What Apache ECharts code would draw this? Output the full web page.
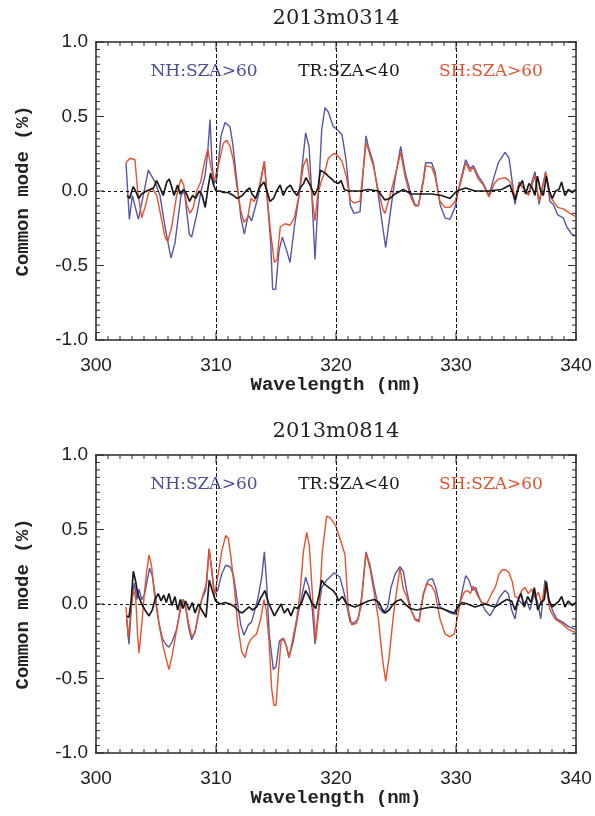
<!DOCTYPE html>
<html><head><meta charset="utf-8">
<script src="https://cdn.jsdelivr.net/npm/echarts@6/dist/echarts.min.js"></script>
<style>html,body{margin:0;padding:0;background:#fff}#c{width:595px;height:816px}</style>
</head><body><div id="c"></div>
<script>
const panelTitles = ['2013m0314', '2013m0814'];
const seriesNames = ['NH:SZA>60', 'TR:SZA<40', 'SH:SZA>60'];
const refWavelengths = [310, 320, 330];
const zeroLevel = 0;
const xRange = [300, 340], yRange = [-1, 1];
const xMajorStep = 10, xMinorStep = 1, yMajorStep = 0.5, yMinorStep = 0.05;

const nhMar = [[302.5,0.19],[302.78,-0.19],[303.03,-0.03],[303.53,-0.19],[303.94,-0.03],[304.36,0.14],[304.92,0.06],[305.33,-0.03],[305.75,-0.24],[306.25,-0.45],[306.58,-0.35],[307.08,-0.03],[307.36,0.0],[307.78,-0.29],[307.97,-0.31],[308.39,-0.16],[308.75,0.0],[309.08,0.1],[309.31,0.26],[309.5,0.48],[309.67,0.19],[309.83,0.05],[310.06,0.08],[310.42,0.37],[310.75,0.46],[311.17,0.43],[311.39,0.32],[311.72,0.08],[312.08,-0.18],[312.36,-0.29],[312.69,-0.16],[312.97,-0.2],[313.53,-0.03],[314.03,0.2],[314.22,0.0],[314.56,-0.35],[314.72,-0.66],[314.97,-0.66],[315.25,-0.4],[315.53,-0.31],[315.89,-0.4],[316.17,-0.48],[316.53,-0.24],[316.92,-0.03],[317.47,0.39],[317.75,0.3],[317.97,0.0],[318.25,-0.46],[318.53,-0.03],[318.81,0.41],[319.08,0.56],[319.36,0.53],[319.78,0.43],[320.0,0.42],[320.5,0.38],[320.85,0.2],[321.2,-0.1],[321.5,-0.15],[322.0,-0.14],[322.5,0.37],[322.69,0.3],[323.11,0.19],[323.53,-0.03],[323.89,-0.24],[324.14,-0.38],[324.5,-0.16],[324.92,0.08],[325.39,0.3],[325.75,0.13],[326.17,0.0],[326.58,-0.09],[326.86,-0.1],[327.28,0.08],[327.47,0.19],[327.97,0.19],[328.25,0.13],[328.67,-0.09],[329.08,-0.18],[329.5,-0.19],[329.92,-0.11],[330.19,0.0],[330.47,0.1],[330.81,0.21],[331.17,0.15],[331.44,0.17],[331.86,0.1],[332.28,0.05],[332.75,-0.03],[333.19,0.1],[333.53,0.19],[334.08,0.26],[334.42,0.22],[334.69,0.06],[334.92,-0.09],[335.25,0.06],[335.61,0.02],[336.03,-0.02],[336.58,0.13],[336.92,-0.09],[337.47,0.13],[337.83,-0.07],[338.11,-0.09],[338.47,-0.16],[338.94,-0.18],[339.22,-0.24],[339.64,-0.29],[339.92,-0.3]];
const trMar = [[302.6,-0.03],[302.8,-0.05],[303.1,0.03],[303.3,0.0],[303.55,-0.05],[303.8,-0.02],[304.2,0.0],[304.5,0.01],[304.8,0.02],[305.05,0.07],[305.4,0.01],[305.6,-0.03],[305.9,0.06],[306.1,0.08],[306.3,0.03],[306.5,-0.03],[306.8,0.04],[307.0,-0.02],[307.3,0.01],[307.55,-0.02],[307.8,-0.07],[308.05,-0.03],[308.3,-0.05],[308.6,0.0],[308.85,-0.03],[309.1,-0.11],[309.35,0.03],[309.55,0.12],[309.8,0.04],[310.0,0.0],[310.35,0.0],[310.6,-0.01],[311.0,-0.01],[311.45,-0.03],[311.75,-0.05],[311.9,-0.05],[312.2,-0.03],[312.5,0.0],[312.8,0.02],[313.0,-0.02],[313.3,-0.05],[313.6,0.02],[314.0,0.06],[314.25,0.0],[314.5,-0.07],[314.8,-0.05],[315.05,0.0],[315.35,0.04],[315.6,-0.03],[315.9,0.02],[316.2,0.04],[316.45,0.0],[316.75,-0.03],[317.0,0.02],[317.3,0.05],[317.5,0.09],[317.9,0.03],[318.2,-0.03],[318.5,0.02],[318.7,0.14],[319.1,0.12],[319.35,0.1],[319.65,0.08],[319.9,0.06],[320.2,0.05],[320.42,0.07],[320.69,0.01],[321.03,0.0],[322.0,0.0],[322.69,0.01],[323.53,0.0],[323.8,-0.03],[324.08,-0.06],[324.5,-0.05],[324.92,-0.02],[325.6,0.01],[326.3,-0.02],[327.14,-0.02],[327.97,-0.02],[328.8,-0.03],[329.5,-0.05],[330.06,0.0],[330.81,0.02],[331.58,0.0],[332.69,0.0],[333.8,0.01],[334.5,0.04],[334.92,-0.06],[335.25,0.03],[335.53,0.07],[335.8,-0.02],[336.08,0.05],[336.36,0.02],[336.58,-0.03],[336.78,0.1],[337.06,0.0],[337.28,-0.03],[337.53,0.1],[337.78,0.0],[338.03,-0.05],[338.3,0.0],[338.58,0.01],[338.8,0.06],[339.08,-0.03],[339.36,0.01],[339.69,-0.01],[339.97,0.01]];
const shMar = [[302.5,0.19],[302.83,0.22],[303.25,0.21],[303.47,0.0],[303.81,-0.18],[304.08,-0.11],[304.42,0.0],[304.69,0.02],[305.06,-0.03],[305.39,-0.16],[305.75,-0.31],[305.97,-0.34],[306.31,-0.24],[306.72,-0.03],[307.08,0.08],[307.31,0.04],[307.56,-0.09],[307.83,-0.15],[308.11,-0.11],[308.39,0.0],[308.72,0.06],[309.03,0.19],[309.31,0.28],[309.58,0.16],[309.86,0.07],[310.25,0.19],[310.61,0.32],[310.89,0.34],[311.17,0.3],[311.44,0.21],[311.72,0.04],[312.06,-0.13],[312.33,-0.21],[312.64,-0.18],[312.92,-0.05],[313.19,-0.07],[313.53,0.0],[314.03,0.2],[314.22,0.0],[314.5,-0.24],[314.86,-0.48],[315.08,-0.46],[315.36,-0.24],[315.75,-0.22],[316.17,-0.23],[316.53,-0.18],[316.92,-0.03],[317.28,0.17],[317.56,0.22],[317.92,0.02],[318.25,-0.2],[318.47,-0.03],[318.75,0.06],[319.08,0.13],[319.36,0.22],[319.78,0.25],[320.0,0.25],[320.5,0.2],[320.85,0.1],[321.2,-0.06],[321.5,-0.08],[322.0,-0.07],[322.5,0.32],[322.69,0.28],[323.11,0.17],[323.53,0.0],[323.94,-0.13],[324.08,-0.15],[324.5,-0.03],[324.92,0.1],[325.39,0.26],[325.75,0.1],[326.17,-0.03],[326.58,-0.1],[326.86,-0.1],[327.28,0.06],[327.47,0.17],[327.97,0.16],[328.25,0.1],[328.67,-0.07],[329.08,-0.11],[329.5,-0.11],[329.92,-0.07],[330.19,0.0],[330.47,0.08],[330.81,0.19],[331.17,0.13],[331.44,0.16],[331.86,0.08],[332.28,0.04],[332.75,-0.04],[333.19,0.05],[333.53,0.08],[334.08,0.09],[334.42,0.07],[334.69,0.04],[334.92,-0.05],[335.25,0.05],[335.61,0.02],[336.03,-0.03],[336.58,0.1],[336.92,-0.07],[337.47,0.12],[337.83,-0.03],[338.11,-0.07],[338.47,-0.11],[338.94,-0.12],[339.5,-0.15],[339.92,-0.17]];

const nhAug = [[302.56,-0.1],[302.75,-0.27],[302.97,0.01],[303.19,0.14],[303.42,0.03],[303.58,0.1],[303.81,0.03],[304.03,0.06],[304.25,0.15],[304.47,0.24],[304.69,0.19],[304.97,0.04],[305.25,-0.13],[305.53,-0.23],[305.81,-0.27],[306.08,-0.29],[306.36,-0.25],[306.72,-0.17],[307.08,-0.02],[307.28,0.03],[307.5,-0.04],[307.75,-0.17],[307.97,-0.24],[308.25,-0.19],[308.53,-0.08],[308.81,0.03],[309.14,0.09],[309.42,0.37],[309.64,0.24],[309.86,0.07],[310.14,0.09],[310.47,0.2],[310.81,0.26],[311.17,0.25],[311.44,0.2],[311.72,0.05],[312.06,-0.14],[312.33,-0.21],[312.69,-0.14],[312.97,-0.12],[313.47,0.03],[313.81,0.18],[314.03,0.35],[314.22,0.14],[314.44,-0.21],[314.78,-0.44],[315.0,-0.42],[315.28,-0.25],[315.56,-0.23],[315.83,-0.27],[316.08,-0.36],[316.44,-0.25],[316.86,-0.06],[317.19,0.07],[317.47,0.18],[317.75,0.11],[318.03,-0.04],[318.25,-0.27],[318.53,-0.04],[318.81,0.11],[319.22,0.16],[319.86,0.21],[320.0,0.22],[320.33,0.18],[320.75,0.05],[321.17,-0.12],[321.44,-0.13],[321.86,-0.1],[322.14,0.05],[322.5,0.35],[322.83,0.26],[323.19,0.11],[323.53,-0.02],[323.94,-0.06],[324.31,-0.02],[324.58,0.11],[324.92,0.2],[325.33,0.25],[325.61,0.22],[325.89,0.09],[326.25,-0.04],[326.58,-0.1],[326.92,-0.11],[327.28,0.07],[327.69,0.16],[328.03,0.17],[328.31,0.11],[328.67,-0.02],[329.08,-0.04],[329.5,-0.06],[329.92,-0.07],[330.25,-0.02],[330.61,0.12],[330.81,0.19],[331.08,0.16],[331.36,0.09],[331.64,0.11],[332.0,0.03],[332.42,-0.04],[332.83,-0.08],[333.25,-0.02],[333.67,0.05],[334.08,0.09],[334.36,0.07],[334.64,-0.04],[334.92,-0.1],[335.19,0.03],[335.53,0.0],[335.89,0.02],[336.17,-0.04],[336.5,0.07],[336.78,0.02],[337.06,-0.1],[337.42,0.16],[337.69,0.05],[338.03,-0.04],[338.39,-0.1],[338.86,-0.12],[339.36,-0.15],[339.92,-0.17]];
const trAug = [[302.56,-0.08],[302.75,-0.09],[302.94,0.03],[303.11,0.22],[303.31,0.15],[303.47,0.07],[303.81,0.0],[304.08,-0.04],[304.42,-0.08],[304.69,-0.04],[304.92,0.03],[305.19,0.07],[305.42,0.02],[305.64,0.06],[305.86,0.01],[306.08,0.07],[306.33,-0.01],[306.58,0.05],[306.81,-0.04],[307.03,0.03],[307.25,-0.03],[307.47,0.02],[307.75,-0.04],[308.03,0.01],[308.25,-0.06],[308.53,0.0],[308.81,-0.04],[309.17,-0.09],[309.44,0.16],[309.69,0.09],[309.97,0.02],[310.33,0.0],[310.75,0.01],[311.17,0.0],[311.58,-0.02],[311.92,-0.05],[312.19,-0.06],[312.47,-0.04],[312.75,-0.02],[313.03,-0.04],[313.39,-0.02],[313.72,0.04],[314.08,0.09],[314.36,0.01],[314.64,-0.04],[314.86,-0.08],[315.14,-0.04],[315.42,0.0],[315.69,-0.06],[315.97,-0.03],[316.25,-0.08],[316.53,-0.02],[316.81,-0.03],[317.14,0.01],[317.47,0.09],[317.75,0.05],[318.03,0.0],[318.31,-0.03],[318.56,0.05],[318.81,0.16],[319.08,0.13],[319.42,0.11],[319.75,0.09],[320.03,0.06],[320.19,0.02],[320.53,0.05],[320.89,0.0],[321.58,-0.02],[322.14,0.0],[322.69,0.02],[323.19,0.03],[323.58,0.01],[323.81,-0.03],[324.08,-0.06],[324.42,-0.04],[324.78,0.0],[325.06,0.02],[325.42,0.03],[325.75,0.0],[326.17,-0.03],[326.72,-0.04],[327.28,-0.03],[327.97,-0.02],[328.81,-0.03],[329.5,-0.05],[329.86,-0.06],[330.14,-0.02],[330.53,0.01],[330.97,0.0],[331.58,-0.02],[332.42,0.0],[333.25,-0.02],[333.81,0.01],[334.22,0.03],[334.64,0.02],[334.92,-0.04],[335.14,0.02],[335.42,0.07],[335.69,-0.02],[335.97,0.05],[336.25,0.01],[336.53,0.11],[336.81,-0.04],[337.08,0.01],[337.36,0.03],[337.53,0.15],[337.75,0.02],[338.03,-0.02],[338.31,0.0],[338.58,0.02],[338.81,0.05],[339.08,-0.02],[339.36,0.02],[339.69,-0.01],[339.97,0.01]];
const shAug = [[302.5,-0.02],[302.69,-0.23],[302.92,-0.04],[303.11,0.1],[303.31,0.04],[303.47,-0.21],[303.58,-0.33],[303.81,-0.14],[304.03,0.07],[304.22,0.22],[304.42,0.33],[304.64,0.25],[304.86,0.07],[305.06,-0.04],[305.33,-0.17],[305.61,-0.29],[305.89,-0.38],[306.08,-0.44],[306.36,-0.34],[306.72,-0.17],[307.0,-0.04],[307.19,0.03],[307.42,0.01],[307.64,-0.1],[307.97,-0.22],[308.25,-0.19],[308.58,-0.04],[308.94,0.07],[309.22,0.14],[309.44,0.37],[309.69,0.18],[309.86,0.05],[310.14,0.18],[310.47,0.35],[310.81,0.46],[311.03,0.44],[311.25,0.31],[311.53,0.11],[311.81,-0.14],[312.14,-0.32],[312.42,-0.36],[312.69,-0.27],[312.97,-0.23],[313.39,-0.2],[313.72,-0.1],[314.0,0.03],[314.19,-0.04],[314.42,-0.25],[314.64,-0.57],[314.83,-0.68],[315.0,-0.68],[315.19,-0.47],[315.42,-0.25],[315.64,-0.23],[315.89,-0.29],[316.08,-0.36],[316.36,-0.25],[316.72,-0.1],[317.0,0.07],[317.28,0.35],[317.56,0.48],[317.78,0.39],[318.03,0.07],[318.31,-0.25],[318.58,-0.04],[318.86,0.35],[319.22,0.59],[319.5,0.58],[319.86,0.54],[320.0,0.52],[320.33,0.44],[320.75,0.33],[321.03,-0.04],[321.31,-0.14],[321.72,-0.13],[322.08,-0.02],[322.5,0.34],[322.83,0.24],[323.19,0.07],[323.53,-0.1],[323.86,-0.36],[324.14,-0.52],[324.42,-0.36],[324.78,-0.08],[325.06,0.09],[325.33,0.24],[325.61,0.1],[325.89,0.05],[326.25,-0.04],[326.64,-0.11],[326.92,-0.12],[327.28,0.06],[327.56,0.14],[327.97,0.12],[328.25,0.08],[328.67,-0.1],[329.08,-0.2],[329.5,-0.22],[329.86,-0.2],[330.14,-0.08],[330.42,0.03],[330.69,0.08],[330.97,0.09],[331.19,0.07],[331.44,0.12],[331.72,0.07],[332.14,0.01],[332.56,0.0],[332.97,0.07],[333.31,0.12],[333.58,0.2],[333.86,0.23],[334.14,0.23],[334.42,0.21],[334.69,0.15],[334.92,0.05],[335.19,0.04],[335.47,0.09],[335.75,0.11],[336.03,0.07],[336.31,0.1],[336.58,0.04],[336.86,0.08],[337.14,0.0],[337.47,0.14],[337.83,-0.04],[338.25,-0.1],[338.81,-0.13],[339.36,-0.17],[339.92,-0.19]];

const panels = [
  {title: panelTitles[0], nh: nhMar, tr: trMar, sh: shMar},
  {title: panelTitles[1], nh: nhAug, tr: trAug, sh: shAug}
];
const colors = {nh: '#5457a8', tr: '#1a1a1a', sh: '#e8512b'};
const labelColors = ['#4a4d9e', '#1a1a1a', '#e2532e'];

const gridTops = [42, 455];
const gridH = 298;
const L = 96, R = 19;
const frameColor = '#2a2a2a';

function fl() { return {show: true, onZero: false, lineStyle: {color: frameColor, width: 1.5}}; }
const labelStyle = {color: '#222', fontFamily: 'Liberation Sans', fontSize: 19};
const nameStyle = {color: '#222', fontFamily: 'Liberation Mono', fontWeight: 'bold', fontSize: 19};

// Inward ticks on all four sides of the frame, placed through the axis scales
function tickSeries(ai) {
  return {
    type: 'custom', xAxisIndex: ai, yAxisIndex: ai, silent: true, clip: false, z: 10,
    data: [[(xRange[0] + xRange[1]) / 2, 0]],
    renderItem: function (params, api) {
      const children = [];
      const lb = api.coord([xRange[0], yRange[0]]);
      const rt = api.coord([xRange[1], yRange[1]]);
      const st = {stroke: frameColor, lineWidth: 1};
      const nx = Math.round((xRange[1] - xRange[0]) / xMinorStep);
      const perX = Math.round(xMajorStep / xMinorStep);
      for (let i = 0; i <= nx; i++) {
        const px = api.coord([xRange[0] + i * xMinorStep, 0])[0];
        const len = (i % perX === 0) ? 8 : 4;
        children.push({type: 'line', shape: {x1: px, y1: lb[1], x2: px, y2: lb[1] - len}, style: st});
        children.push({type: 'line', shape: {x1: px, y1: rt[1], x2: px, y2: rt[1] + len}, style: st});
      }
      const ny = Math.round((yRange[1] - yRange[0]) / yMinorStep);
      const perY = Math.round(yMajorStep / yMinorStep);
      for (let j = 0; j <= ny; j++) {
        const py = api.coord([xRange[0], yRange[0] + j * yMinorStep])[1];
        const len = (j % perY === 0) ? 8 : 4;
        children.push({type: 'line', shape: {x1: lb[0], y1: py, x2: lb[0] + len, y2: py}, style: st});
        children.push({type: 'line', shape: {x1: rt[0], y1: py, x2: rt[0] - len, y2: py}, style: st});
      }
      return {type: 'group', children: children};
    }
  };
}

const grids = [], xAxes = [], yAxes = [], series = [], graphics = [];

gridTops.forEach((top, g) => {
  grids.push({left: L, right: R, top: top, height: gridH});
  xAxes.push({
    gridIndex: g, type: 'value', min: xRange[0], max: xRange[1], interval: xMajorStep, position: 'bottom',
    axisLine: fl(), axisTick: {show: false}, minorTick: {show: false}, splitLine: {show: false},
    axisLabel: Object.assign({margin: 16}, labelStyle),
    name: 'Wavelength (nm)', nameLocation: 'middle', nameGap: 36, nameTextStyle: Object.assign({}, nameStyle)
  });
  xAxes.push({
    gridIndex: g, type: 'value', min: xRange[0], max: xRange[1], interval: xMajorStep, position: 'top',
    axisLine: fl(), axisTick: {show: false}, minorTick: {show: false}, splitLine: {show: false}, axisLabel: {show: false}
  });
  yAxes.push({
    gridIndex: g, type: 'value', min: yRange[0], max: yRange[1], interval: yMajorStep, position: 'left',
    axisLine: fl(), axisTick: {show: false}, minorTick: {show: false}, splitLine: {show: false},
    axisLabel: Object.assign({margin: 8, formatter: v => v.toFixed(1)}, labelStyle),
    name: 'Common mode (%)', nameLocation: 'middle', nameGap: 63, nameTextStyle: Object.assign({}, nameStyle)
  });
  yAxes.push({
    gridIndex: g, type: 'value', min: yRange[0], max: yRange[1], interval: yMajorStep, position: 'right',
    axisLine: fl(), axisTick: {show: false}, minorTick: {show: false}, splitLine: {show: false}, axisLabel: {show: false}
  });

  const p = panels[g];
  const ai = g * 2;
  series.push({type: 'line', xAxisIndex: ai, yAxisIndex: ai, data: p.nh,
    showSymbol: false, lineStyle: {color: colors.nh, width: 1.4}});
  series.push({type: 'line', xAxisIndex: ai, yAxisIndex: ai, data: p.sh,
    showSymbol: false, lineStyle: {color: colors.sh, width: 1.4}});
  series.push({type: 'line', xAxisIndex: ai, yAxisIndex: ai, data: p.tr,
    showSymbol: false, lineStyle: {color: colors.tr, width: 1.7},
    markLine: {
      silent: true, symbol: ['none', 'none'], label: {show: false},
      data: refWavelengths.map(w => ({xAxis: w, lineStyle: {color: '#111', width: 1, type: [4, 2]}}))
        .concat([{yAxis: zeroLevel, lineStyle: {color: '#111', width: 1, type: [3, 3]}}])
    }});
  series.push(tickSeries(ai));

  const cx = L + (595 - L - R) / 2;
  graphics.push({type: 'text', x: cx, y: top - 23,
    style: {text: p.title, fill: '#222', font: '21px "DejaVu Serif"', align: 'center', verticalAlign: 'middle'}});
  const labelX = [204, 349, 491];
  labelX.forEach((lx, i) => {
    graphics.push({type: 'text', x: lx, y: top + 30,
      style: {text: seriesNames[i], fill: labelColors[i], font: '17px "DejaVu Serif"', align: 'center', verticalAlign: 'middle'}});
  });
});

const chart = echarts.init(document.getElementById('c'));
chart.setOption({animation: false, grid: grids, xAxis: xAxes, yAxis: yAxes, series: series, graphic: graphics});
</script></body></html>
